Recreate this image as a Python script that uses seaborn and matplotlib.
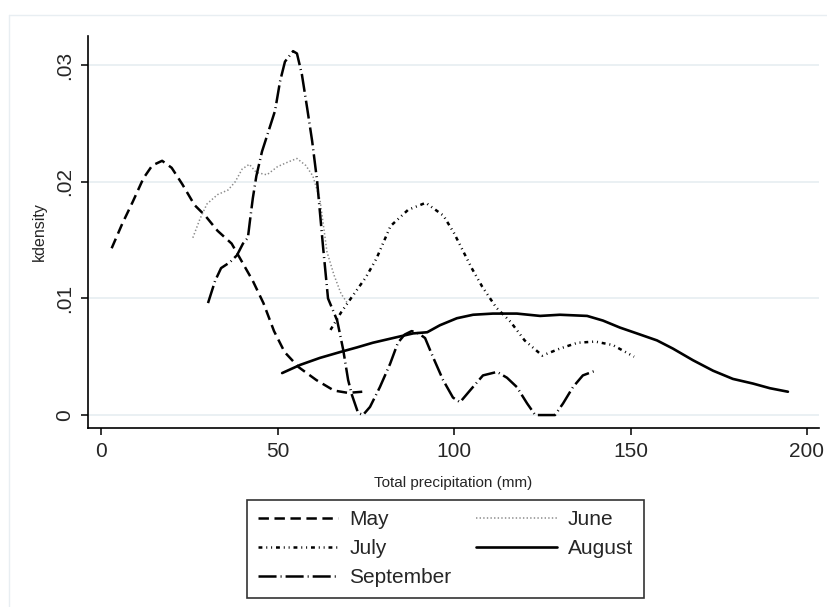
import numpy as np
import pandas as pd
import matplotlib
matplotlib.use("Agg")
import matplotlib.pyplot as plt
import seaborn as sns
from matplotlib.lines import Line2D

# ------------------------------
# DATA
# ------------------------------
may_x = [3, 6, 9, 12, 14.5, 17.3, 20, 23, 26.5, 29.5, 33, 37, 40, 43, 46, 49, 52, 56, 61, 66, 70, 74]
may_y = [.0143, .0164, .0183, .0203, .0214, .0218, .0212, .0198, .0180, .0171, .0158, .0147,
         .0131, .0115, .0096, .0072, .0054, .0041, .0030, .0021, .0019, .0020]

june_x = [26, 28, 30, 33, 36, 38, 40, 42, 44, 47, 50, 53, 55.5, 58, 60, 62, 64, 66, 68, 70]
june_y = [.0152, .0168, .0181, .0189, .0193, .0200, .0211, .0215, .0208, .0206, .0213, .0217,
          .0220, .0214, .0205, .0185, .0140, .0120, .0104, .0095]

july_x = [65, 68, 71, 75, 78, 82, 87, 92, 97, 100, 105, 108, 112, 116, 120, 125, 130, 135, 140, 145, 151]
july_y = [.0073, .0088, .0101, .0118, .0134, .0162, .0176, .0182, .0171, .0156, .0126, .0110,
          .0092, .0080, .0064, .0051, .0057, .0062, .0063, .0060, .0050]

aug_x = [51.3, 56.4, 62, 67.7, 72.5, 77, 84.1, 88.4, 92.4, 96, 100.8, 105.4, 111, 117.8, 124.4,
         130, 137.7, 142.2, 147, 151.8, 157.5, 162, 167.7, 173.4, 179, 184.7, 189.5, 194.6]
aug_y = [.0036, .0043, .0049, .0054, .0058, .0062, .0067, .0070, .0071, .0077, .0083, .0086,
         .0087, .0087, .0085, .0086, .0085, .0081, .0075, .0070, .0064, .0057, .0047, .0038,
         .0031, .0027, .0023, .0020]

sep_x = [30.3, 32.3, 34, 36.5, 38.5, 40.2, 41.6, 42.2, 43, 44, 45.6, 47.3, 49.3, 50.7, 52.1,
         54.4, 55.5, 56.9, 58.4, 59.8, 61.2, 62.9, 64.3, 66.9, 68.6, 70, 71.1, 72.8, 74.2, 76.2,
         79, 81.9, 84.1, 86, 88, 90, 91.8, 94, 96.9, 99.7, 101.7, 104.5, 108.2, 112.2, 115,
         117.8, 120.7, 123, 126, 128.6, 130.9, 133.7, 136.5, 140]
sep_y = [.0096, .0115, .0126, .0131, .0137, .0147, .0152, .0167, .0186, .0205, .0226, .0242,
         .0261, .0286, .0303, .0312, .0310, .0292, .0263, .0235, .0201, .0144, .0100, .0081,
         .0056, .0030, .0017, .0002, .0000, .0007, .0024, .0044, .0062, .0069, .0072, .0070,
         .0066, .0050, .0030, .0015, .0011, .0021, .0034, .0037, .0032, .0024, .0010, .0000,
         .0000, .0000, .0010, .0024, .0034, .0038]

x_ticks = [0, 50, 100, 150, 200]
y_ticks = [0, .01, .02, .03]
y_tick_labels = ["0", ".01", ".02", ".03"]

# ------------------------------
# STYLE
# ------------------------------
sns.set_style("white")
plt.rcParams["font.family"] = ["Liberation Sans", "DejaVu Sans"]
plt.rcParams["lines.scale_dashes"] = False

series = [
    ("May", may_x, may_y, dict(color="black", linewidth=1.8, linestyle=(0, (7.5, 4)))),
    ("June", june_x, june_y, dict(color="#8a8a8a", linewidth=1.1, linestyle=(0, (1, 1.6)))),
    ("July", july_x, july_y, dict(color="black", linewidth=1.8,
                                  linestyle=(0, (2.8, 2.8, 0.7, 2.8, 0.7, 2.8)))),
    ("August", aug_x, aug_y, dict(color="black", linewidth=1.9, linestyle="-")),
    ("September", sep_x, sep_y, dict(color="black", linewidth=1.8,
                                     linestyle=(0, (13, 2.9, 0.7, 2.9)))),
]

fig = plt.figure(figsize=(8.27, 6.07), dpi=100)
ax = fig.add_axes([88 / 827, 1 - 428 / 607, (819 - 88) / 827, (428 - 36) / 607])

for yt in y_ticks:
    ax.axhline(yt, color="#e6eef1", linewidth=1.2, zorder=0)

handles = {}
for name, xs, ys, st in series:
    df = pd.DataFrame({"x": xs, "y": ys})
    sns.lineplot(data=df, x="x", y="y", ax=ax, label=name, estimator=None, **st)
    handles[name] = ax.get_lines()[-1]

ax.get_legend().remove()

ax.set_xlim(-3.7, 203.4)
ax.set_ylim(-0.00111, 0.0325)
ax.set_xticks(x_ticks)
ax.set_xticklabels([str(t) for t in x_ticks])
ax.set_yticks(y_ticks)
ax.set_yticklabels(y_tick_labels, rotation=90, va="center")

ax.tick_params(axis="both", direction="out", length=5, width=1.1, color="black",
               labelsize=15, pad=5, left=True, bottom=True)
for side in ["top", "right"]:
    ax.spines[side].set_visible(False)
for side in ["left", "bottom"]:
    ax.spines[side].set_color("black")
    ax.spines[side].set_linewidth(1.2)

ax.set_xlabel("Total precipitation (mm)", fontsize=11, labelpad=11)
ax.set_ylabel("kdensity", fontsize=11.5, labelpad=6)

# faint outer graph-region border (top and left edges only visible)
fig.add_artist(Line2D([9 / 827, 1], [1 - 15 / 607, 1 - 15 / 607], transform=fig.transFigure,
                      color="#e8eef2", linewidth=1))
fig.add_artist(Line2D([9 / 827, 9 / 827], [0, 1 - 15 / 607], transform=fig.transFigure,
                      color="#e8eef2", linewidth=1))

order = ["May", "July", "September", "June", "August"]
leg = fig.legend([handles[n] for n in order], order, ncol=2, loc="upper center",
                 bbox_to_anchor=(445.5 / 827, 1 - 500 / 607), borderaxespad=0, fontsize=15,
                 frameon=True, fancybox=False, edgecolor="black", handlelength=3.85,
                 handletextpad=0.55, columnspacing=1.2, labelspacing=0.48, borderpad=0.5)
leg.get_frame().set_linewidth(1.2)

plt.savefig("out.png", dpi=100)
plt.close()
